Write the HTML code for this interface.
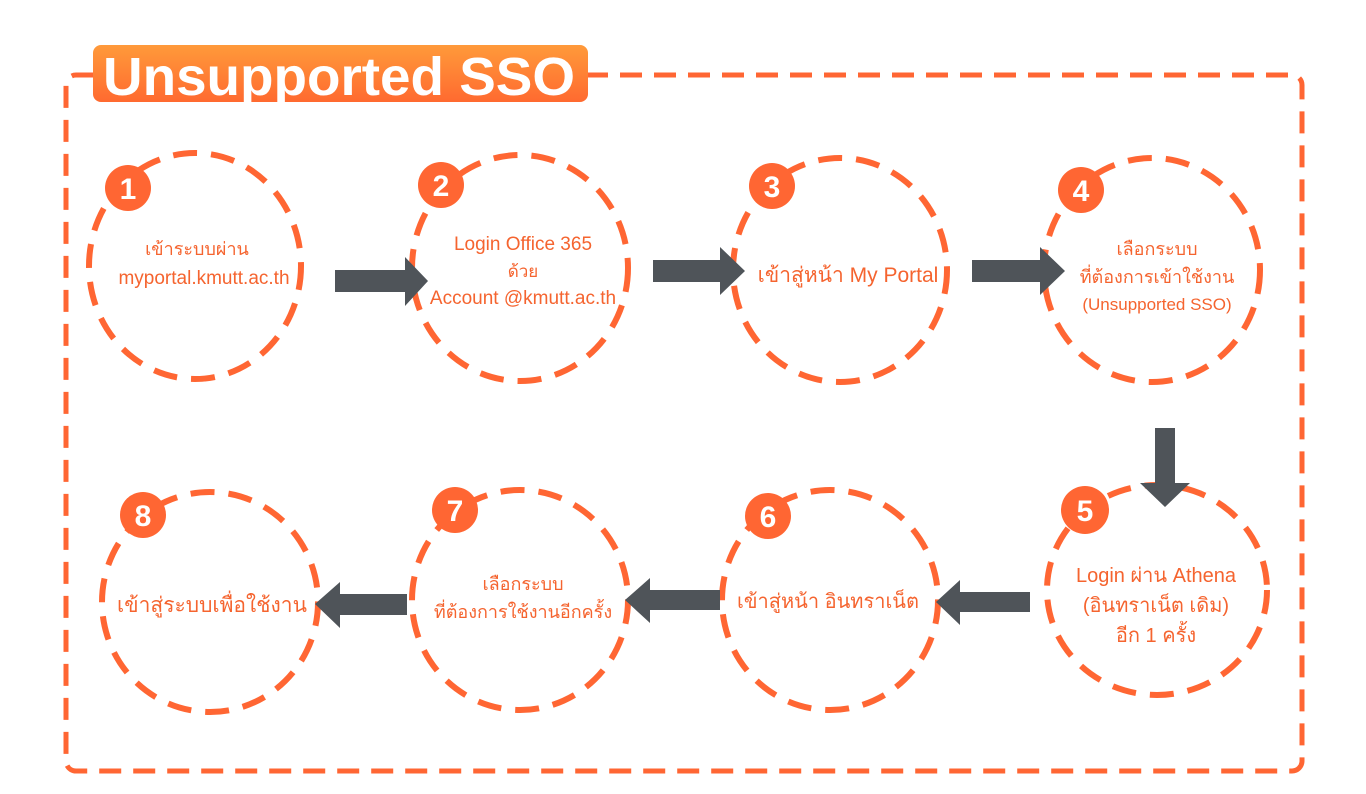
<!DOCTYPE html>
<html><head><meta charset="utf-8"><style>
html,body{margin:0;padding:0;background:#fff;width:1366px;height:794px;overflow:hidden}
svg{display:block}
.t{font-family:"Liberation Sans","DejaVu Sans",sans-serif;fill:#f5642f;text-anchor:middle}
.n{font-family:"Liberation Sans",sans-serif;font-weight:bold;fill:#fff;text-anchor:middle;font-size:30px}
</style></head><body>
<svg width="1366" height="794" viewBox="0 0 1366 794">
<defs><linearGradient id="g" x1="0" y1="0" x2="0" y2="1"><stop offset="0" stop-color="#ff9a3a"/><stop offset="1" stop-color="#ff6a30"/></linearGradient></defs>
<rect x="66" y="75" width="1236" height="696" rx="10" fill="none" stroke="#ff6633" stroke-width="5" stroke-dasharray="22 12"/>
<rect x="93" y="45" width="495" height="57" rx="8" fill="url(#g)"/>
<text x="103" y="95" font-family="Liberation Sans,sans-serif" font-weight="bold" font-size="54" fill="#fff" textLength="472" lengthAdjust="spacingAndGlyphs">Unsupported SSO</text>
<g fill="none" stroke="#ff6633" stroke-width="6" stroke-dasharray="24 14">
<ellipse cx="195" cy="266" rx="106" ry="113"/>
<ellipse cx="520" cy="268" rx="108" ry="113"/>
<ellipse cx="840" cy="270" rx="107" ry="112"/>
<ellipse cx="1152" cy="270" rx="108" ry="112"/>
<ellipse cx="1157" cy="590" rx="110" ry="105"/>
<ellipse cx="830" cy="600" rx="108" ry="110"/>
<ellipse cx="520" cy="600" rx="108" ry="110"/>
<ellipse cx="210" cy="602" rx="108" ry="110"/>
</g>
<g fill="#ff6633">
<circle cx="128" cy="188" r="23"/><circle cx="441" cy="185" r="23"/><circle cx="772" cy="186" r="23"/><circle cx="1081" cy="190" r="23"/>
<circle cx="1085" cy="510" r="24"/><circle cx="768" cy="516" r="23"/><circle cx="455" cy="510" r="23"/><circle cx="143" cy="515" r="23"/>
</g>
<g class="n">
<text x="128" y="199">1</text><text x="441" y="196">2</text><text x="772" y="197">3</text><text x="1081" y="201">4</text>
<text x="1085" y="521">5</text><text x="768" y="527">6</text><text x="455" y="521">7</text><text x="143" y="526">8</text>
</g>
<g fill="#4f5459">
<polygon points="335,270 405,270 405,257 428,281 405,306 405,292 335,292"/>
<polygon points="653,260 720,260 720,247 745,271 720,295 720,282 653,282"/>
<polygon points="972,260 1040,260 1040,247 1065,271 1040,295 1040,282 972,282"/>
<polygon points="1155,428 1175,428 1175,483 1190,483 1165,507 1140,483 1155,483"/>
<polygon points="1030,592 960,592 960,580 936,602 960,625 960,612 1030,612"/>
<polygon points="720,590 650,590 650,578 625,600 650,623 650,610 720,610"/>
<polygon points="407,594 340,594 340,582 315,604 340,628 340,615 407,615"/>
</g>
<g class="t">
<text x="197" y="255" font-size="18">เข้าระบบผ่าน</text>
<text x="204" y="284" font-size="19">myportal.kmutt.ac.th</text>
<text x="523" y="250" font-size="19">Login Office 365</text>
<text x="523" y="277" font-size="17">ด้วย</text>
<text x="523" y="304" font-size="19">Account @kmutt.ac.th</text>
<text x="848" y="282" font-size="21">เข้าสู่หน้า My Portal</text>
<text x="1157" y="255" font-size="18">เลือกระบบ</text>
<text x="1157" y="283" font-size="18">ที่ต้องการเข้าใช้งาน</text>
<text x="1157" y="310" font-size="17">(Unsupported SSO)</text>
<text x="1156" y="582" font-size="20">Login ผ่าน Athena</text>
<text x="1156" y="612" font-size="20">(อินทราเน็ต เดิม)</text>
<text x="1156" y="642" font-size="20">อีก 1 ครั้ง</text>
<text x="828" y="608" font-size="20">เข้าสู่หน้า อินทราเน็ต</text>
<text x="523" y="590" font-size="18">เลือกระบบ</text>
<text x="523" y="618" font-size="18">ที่ต้องการใช้งานอีกครั้ง</text>
<text x="212" y="612" font-size="21">เข้าสู่ระบบเพื่อใช้งาน</text>
</g>
</svg>
</body></html>
